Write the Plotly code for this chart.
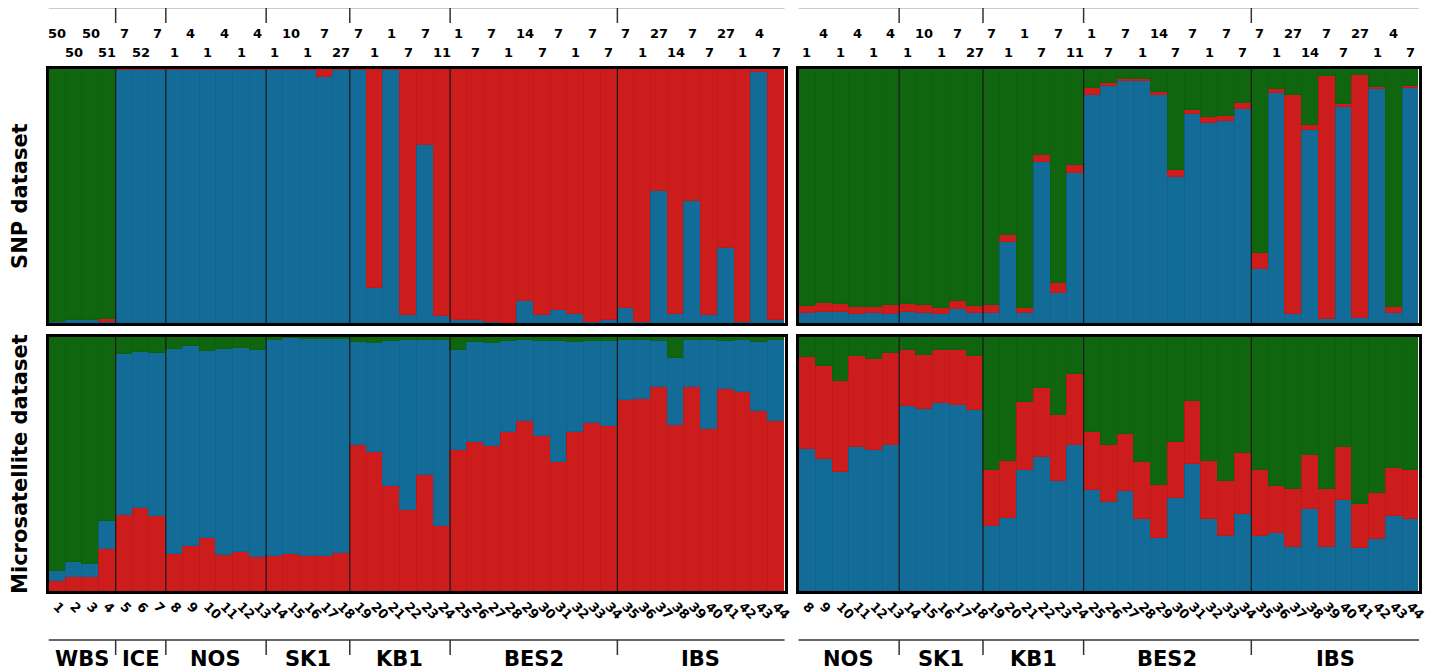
import plotly.graph_objects as go

# page has an 8px body margin; figure is placed at (8, 8) of the 1436x672 window
OX, OY = 8, 8
FW, FH = 1420, 664

# ---------------- data ----------------
inds_left = list(range(1, 45))
inds_right = list(range(8, 45))

group_names = ["WBS", "ICE", "NOS", "SK1", "KB1", "BES2", "IBS"]
group_sizes = [4, 3, 6, 5, 6, 10, 10]

top_counts = [50, 50, 50, 51, 7, 52, 7, 1, 4, 1, 4, 1, 4, 1, 10, 1, 7, 27, 7, 1, 1, 7,
              7, 11, 1, 7, 7, 1, 14, 7, 7, 1, 7, 7, 7, 1, 27, 14, 7, 7, 27, 1, 4, 7]

# SNP dataset, left panel (individuals 1-44), stacked blue, red, green
snp_left_blue = [.005, .01, .01, .005, .995, .995, .995, .997, .997, .997, .997, .995, .995, .995,
                 .997, .995, .97, .995, .995, .138, .995, .03, .70, .026, .01, .01, .003, 0.0,
                 .086, .03, .05, .035, .005, .01, .06, .005, .52, .035, .48, .03, .295, .005, .99, .01]
snp_left_red = [0.0, 0.0, 0.0, .01, .005, .005, .005, .003, .003, .003, .003, .005, .005, .005,
                .003, .005, .03, .005, .005, .862, .005, .97, .30, .974, .99, .99, .997, 1.0,
                .914, .97, .95, .965, .995, .99, .94, .995, .48, .965, .52, .97, .705, .995, .01, .99]
snp_left_green = [.995, .99, .99, .985] + [0.0] * 40

# SNP dataset, right panel (individuals 8-44), stacked blue, red, green
snp_right_blue = [.039, .042, .042, .037, .039, .037, .043, .039, .037, .055, .039, .039, .320,
                  .039, .632, .118, .592, .899, .934, .951, .953, .899, .576, .822, .787, .796,
                  .842, .213, .904, .037, .760, .016, .850, .020, .920, .039, .925]
snp_right_red = [.029, .037, .033, .025, .024, .033, .032, .033, .022, .030, .026, .033, .026,
                 .020, .030, .040, .029, .025, .011, .009, .009, .009, .026, .017, .026, .020,
                 .024, .061, .017, .860, .018, .958, .013, .958, .009, .024, .009]
snp_right_green = [.932, .921, .925, .938, .937, .930, .925, .928, .941, .915, .935, .928, .654,
                   .941, .338, .842, .379, .076, .055, .040, .038, .092, .398, .161, .187, .184,
                   .134, .726, .079, .103, .222, .026, .137, .022, .071, .937, .066]

# Microsatellite dataset, left panel (1-44), stacked red, blue, green
ms_left_red = [.041, .057, .057, .166, .300, .325, .297, .146, .179, .207, .140, .152, .132, .139,
               .146, .136, .136, .149, .574, .549, .412, .320, .456, .256, .555, .587, .569, .627,
               .670, .611, .508, .627, .661, .650, .752, .756, .802, .654, .802, .637, .796, .782,
               .710, .668]
ms_left_blue = [.038, .059, .050, .111, .633, .617, .640, .807, .784, .739, .811, .806, .818, .851,
                .850, .855, .855, .842, .406, .427, .572, .669, .533, .733, .392, .393, .409, .357,
                .317, .375, .475, .353, .323, .334, .237, .231, .182, .263, .187, .350, .189, .205,
                .271, .322]
ms_left_green = [.921, .884, .893, .723, .067, .058, .063, .047, .037, .054, .049, .042, .050, .010,
                 .004, .009, .009, .009, .020, .024, .016, .011, .011, .011, .053, .020, .022, .016,
                 .013, .014, .017, .020, .016, .016, .011, .013, .016, .083, .011, .013, .015, .013,
                 .019, .010]

# Microsatellite dataset, right panel (8-44), stacked blue, red, green
ms_right_blue = [.560, .520, .470, .567, .556, .576, .728, .715, .739, .732, .711, .254, .289,
                 .477, .526, .433, .576, .397, .351, .395, .282, .208, .368, .499, .282, .216,
                 .302, .216, .229, .172, .322, .172, .360, .168, .203, .294, .285]
ms_right_red = [.363, .364, .355, .360, .358, .362, .221, .215, .211, .215, .215, .223, .221,
                .268, .275, .260, .278, .228, .222, .224, .224, .209, .220, .249, .228, .217,
                .243, .261, .184, .228, .212, .228, .207, .176, .181, .192, .192]
ms_right_green = [.077, .116, .175, .073, .086, .062, .051, .070, .050, .053, .074, .523, .490,
                  .255, .199, .307, .146, .375, .427, .381, .494, .583, .412, .252, .490, .567,
                  .455, .523, .587, .600, .466, .600, .433, .656, .616, .514, .523]

# ---------------- styling ----------------
GREEN = "#0f660f"
BLUE = "#136b98"
RED = "#cc1c1c"
FONT = "DejaVu Sans"


def fx(p):
    return (p - OX) / FW


def fy(p):
    return 1 - (p - OY) / FH


fig = go.Figure()


def add_stack(xs, layers, xa, ya):
    for vals, col in layers:
        fig.add_trace(go.Bar(x=xs, y=vals, width=1, marker=dict(color=col,
                             line=dict(width=0.6, color="rgba(0,0,0,0.10)")),
                             xaxis=xa, yaxis=ya, showlegend=False, hoverinfo="skip"))


add_stack(inds_left, [(snp_left_blue, BLUE), (snp_left_red, RED), (snp_left_green, GREEN)], "x", "y")
add_stack(inds_right, [(snp_right_blue, BLUE), (snp_right_red, RED), (snp_right_green, GREEN)], "x2", "y2")
add_stack(inds_left, [(ms_left_red, RED), (ms_left_blue, BLUE), (ms_left_green, GREEN)], "x3", "y3")
add_stack(inds_right, [(ms_right_blue, BLUE), (ms_right_red, RED), (ms_right_green, GREEN)], "x4", "y4")

xl = [fx(49), fx(789)]
xr = [fx(803), fx(1427)]
yt = [fy(323), fy(69)]
yb = [fy(591), fy(337)]

frame = dict(showline=True, mirror=True, linecolor="black", linewidth=2.5,
             showgrid=False, zeroline=False, ticks="")
lay = dict(width=FW, height=FH, autosize=False, margin=dict(l=0, r=0, t=0, b=0),
           paper_bgcolor="white", plot_bgcolor="white", barmode="stack", bargap=0,
           showlegend=False)
tickfont = dict(family=FONT, size=13, color="black", weight="bold")
lay["xaxis"] = dict(domain=xl, anchor="y", range=[0.5, 44.5], showticklabels=False, **frame)
lay["yaxis"] = dict(domain=yt, anchor="x", range=[0, 1], showticklabels=False, **frame)
lay["xaxis2"] = dict(domain=xr, anchor="y2", range=[7.5, 44.5], showticklabels=False, **frame)
lay["yaxis2"] = dict(domain=yt, anchor="x2", range=[0, 1], showticklabels=False, **frame)
lay["xaxis3"] = dict(domain=xl, anchor="y3", range=[0.5, 44.5], tickmode="array",
                     tickvals=inds_left, ticktext=[str(i) for i in inds_left], tickangle=45,
                     tickfont=tickfont, **frame)
lay["yaxis3"] = dict(domain=yb, anchor="x3", range=[0, 1], showticklabels=False, **frame)
lay["xaxis4"] = dict(domain=xr, anchor="y4", range=[7.5, 44.5], tickmode="array",
                     tickvals=inds_right, ticktext=[str(i) for i in inds_right], tickangle=45,
                     tickfont=tickfont, **frame)
lay["yaxis4"] = dict(domain=yb, anchor="x4", range=[0, 1], showticklabels=False, **frame)
fig.update_layout(**lay)

# group boundaries
bounds = []
acc = 0
centers = []
for s in group_sizes:
    centers.append(acc + (s + 1) / 2)
    acc += s
    bounds.append(acc + 0.5)
inner_bounds = bounds[:-1]

shapes = []
annos = []
panels = [("x", "y", 0.5), ("x2", "y2", 7.5), ("x3", "y3", 0.5), ("x4", "y4", 7.5)]
for xa, ya, lo in panels:
    for b in inner_bounds:
        if b > lo:
            shapes.append(dict(type="line", xref=xa, yref=ya, x0=b, x1=b, y0=0, y1=1,
                               line=dict(color="#1a1a1a", width=1.2), layer="above"))

# top and bottom bracket lines
y_top_line = fy(7.5)
y_top_tick = fy(23)
y_bot_line = fy(640)
y_bot_tick = fy(655)
for xa, lo in [("x", 0.5), ("x2", 7.5)]:
    shapes.append(dict(type="line", xref=xa, yref="paper", x0=lo - 0.25, x1=44.55,
                       y0=y_top_line, y1=y_top_line, line=dict(color="#333", width=1.5)))
    shapes.append(dict(type="line", xref=xa, yref="paper", x0=lo - 0.25, x1=44.55,
                       y0=y_bot_line, y1=y_bot_line, line=dict(color="#333", width=1.5)))
    for b in inner_bounds:
        if b > lo:
            shapes.append(dict(type="line", xref=xa, yref="paper", x0=b, x1=b,
                               y0=y_top_line, y1=y_top_tick, line=dict(color="#333", width=1.5)))
            shapes.append(dict(type="line", xref=xa, yref="paper", x0=b, x1=b,
                               y0=y_bot_line, y1=y_bot_tick, line=dict(color="#333", width=1.5)))
    # group names
    for name, c in zip(group_names, centers):
        if c > lo:
            annos.append(dict(text=name, xref=xa, yref="paper", x=c, y=0,
                              showarrow=False, yanchor="bottom", borderpad=0,
                              font=dict(family=FONT, size=21, color="black", weight="bold")))
    # sample-count labels
    for i, n in zip(inds_left, top_counts):
        if i > lo:
            yy = fy(33) if i % 2 == 1 else fy(52)
            annos.append(dict(text=str(n), xref=xa, yref="paper", x=i, y=yy, showarrow=False,
                              yanchor="middle",
                              font=dict(family=FONT, size=13, color="black", weight="bold")))

annos.append(dict(text="SNP dataset", xref="paper", yref="paper", x=fx(20), y=sum(yt) / 2,
                  textangle=-90, showarrow=False, xanchor="center", yanchor="middle",
                  font=dict(family=FONT, size=21, color="black", weight="bold")))
annos.append(dict(text="Microsatellite dataset", xref="paper", yref="paper", x=fx(20),
                  y=sum(yb) / 2, textangle=-90, showarrow=False, xanchor="center",
                  yanchor="middle", font=dict(family=FONT, size=21, color="black", weight="bold")))

fig.update_layout(shapes=shapes, annotations=annos)
fig.write_html("out.html")
